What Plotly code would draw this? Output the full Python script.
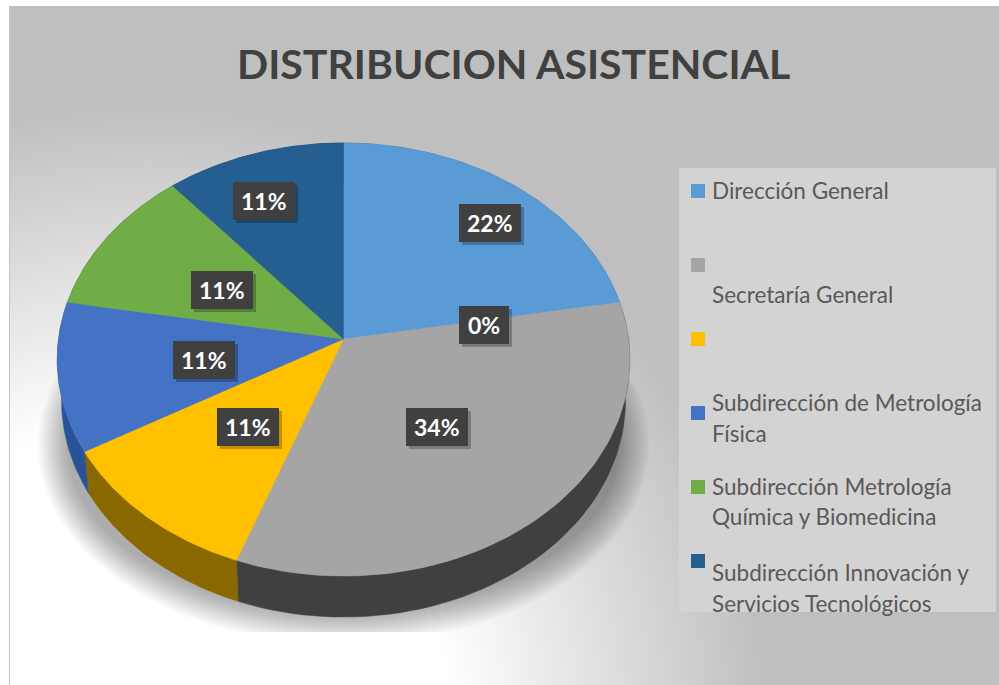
import numpy as np
import plotly.graph_objects as go

# ---- data ----
slice_names = ["Dirección General", "(sin nombre)", "Secretaría General", "(vacío)",
               "Subdirección de Metrología Física",
               "Subdirección Metrología Química y Biomedicina",
               "Subdirección Innovación y Servicios Tecnológicos"]
slice_values = [2, 0, 3, 1, 1, 1, 1]
slice_labels = ["22%", "0%", "34%", "11%", "11%", "11%", "11%"]
top_colors = ["#5b9bd5", "#a5a5a5", "#a5a5a5", "#ffc000", "#4472c4", "#70ad47", "#255e91"]
side_colors = ["#37618a", "#404040", "#404040", "#8a6800", "#2a5296", "#43682b", "#163a5a"]
title_text = "DISTRIBUCION ASISTENCIAL"
legend_colors = ["#5b9bd5", "#a5a5a5", "#ffc000", "#4472c4", "#70ad47", "#255e91"]
legend_lines = ["Dirección General", "Secretaría General", "Subdirección de Metrología", "Física",
                "Subdirección Metrología", "Química y Biomedicina",
                "Subdirección Innovación y", "Servicios Tecnológicos"]

# ---- layout geometry (pixels) ----
W, H = 999, 685
CX, HUB = 343.5, 339
A, B, K = 285.0, 214.6, 0.0947
DEPTH, SHRINK = 41, 0.985
label_pos = [(490, 223), (484, 325), (437, 427), (248, 427), (204, 360), (222, 290), (264, 201)]
legend_square_y = [191, 265, 339, 413, 487, 561]
legend_line_y = [190, 294, 402, 433, 486, 516, 572, 603]


def project(theta, drop=0.0, scale=1.0):
    u, v = np.sin(theta), -np.cos(theta)
    d = 1 - K * v
    return CX + scale * A * u / d, HUB + B * v / d + drop


shapes = []
# background
shapes.append(dict(type="rect", layer="below", x0=9, x1=W, y0=6, y1=H, fillcolor="#bfbfbf", line_width=0))
for r in range(620, 296, -4):
    t = (620 - r) / 320
    g = int(round(0xbf + t * (0xff - 0xbf)))
    shapes.append(dict(type="circle", layer="below", x0=150 - r, x1=150 + r, y0=720 - r, y1=720 + r,
                       fillcolor=f"rgb({g},{g},{g})", line_width=0))
shapes.append(dict(type="line", layer="below", x0=9.5, x1=9.5, y0=6, y1=H, line=dict(color="#c4c4c4", width=1)))

# soft shadow
phi = np.linspace(0, 2 * np.pi, 240)
for i in range(22):
    f = i / 21
    rx, ry, cy = 306 - 30 * f, 200 - 32 * f, 445
    xs = CX + rx * np.cos(phi)
    ys = np.minimum(cy + ry * np.sin(phi), 632)
    path = "M" + " L".join(f"{a:.1f},{b:.1f}" for a, b in zip(xs, ys)) + " Z"
    shapes.append(dict(type="path", layer="below", path=path, fillcolor="rgba(0,0,0,0.017)", line_width=0))

fig = go.Figure()
total = sum(slice_values)
edges = np.concatenate([[0], np.cumsum(slice_values)]) / total * 2 * np.pi

# extruded side
for i in range(len(slice_values)):
    if slice_values[i] == 0:
        continue
    th = np.linspace(edges[i], edges[i + 1], 60)
    x1, y1 = project(th)
    x2, y2 = project(th[::-1], DEPTH, SHRINK)
    fig.add_trace(go.Scatter(x=np.r_[x1, x2, x1[0]], y=np.r_[y1, y2, y1[0]], mode="lines", fill="toself",
                             fillcolor=side_colors[i], line=dict(color=side_colors[i], width=0.5),
                             hoverinfo="skip", showlegend=False))
# top face
for i in range(len(slice_values)):
    if slice_values[i] == 0:
        continue
    th = np.linspace(edges[i], edges[i + 1], 80)
    x1, y1 = project(th)
    fig.add_trace(go.Scatter(x=np.r_[CX, x1, CX], y=np.r_[HUB, y1, HUB], mode="lines", fill="toself",
                             fillcolor=top_colors[i], line=dict(color=top_colors[i], width=0.5),
                             name=slice_names[i], text=slice_labels[i], hoverinfo="name+text", showlegend=False))

annotations = []
annotations.append(dict(x=513, y=63, xref="x", yref="y", text=f"<b>{title_text}</b>", showarrow=False,
                        font=dict(family="Lato", size=41, color="#404040")))

for (lx, ly), lab in zip(label_pos, slice_labels):
    w = 50 if lab == "0%" else 62
    shapes.append(dict(type="rect", layer="above", x0=lx - w / 2 + 3, x1=lx + w / 2 + 3, y0=ly - 19 + 3, y1=ly + 19 + 3,
                       fillcolor="rgba(0,0,0,0.25)", line_width=0))
    shapes.append(dict(type="rect", layer="above", x0=lx - w / 2, x1=lx + w / 2, y0=ly - 19, y1=ly + 19,
                       fillcolor="#404040", line_width=0))
    annotations.append(dict(x=lx, y=ly, xref="x", yref="y", text=f"<b>{lab}</b>", showarrow=False,
                            font=dict(family="Lato", size=23, color="#ffffff")))

# legend
shapes.append(dict(type="rect", layer="above", x0=679, x1=996, y0=168, y1=612, fillcolor="#d3d3d3", line_width=0))
for c, y in zip(legend_colors, legend_square_y):
    shapes.append(dict(type="rect", layer="above", x0=691, x1=705, y0=y - 7, y1=y + 7, fillcolor=c, line_width=0))
for t, y in zip(legend_lines, legend_line_y):
    annotations.append(dict(x=710, y=y, xref="x", yref="y", xanchor="left", text=t, showarrow=False,
                            font=dict(family="Lato", size=22.5, color="#595959")))

fig.update_layout(
    width=W, height=H, autosize=False,
    margin=dict(l=9, r=0, t=6, b=0),
    paper_bgcolor="#ffffff", plot_bgcolor="rgba(0,0,0,0)",
    xaxis=dict(range=[9, W], visible=False, fixedrange=True),
    yaxis=dict(range=[H, 6], visible=False, fixedrange=True),
    shapes=shapes, annotations=annotations, showlegend=False,
)
fig.write_html("out.html", config=dict(displayModeBar=False),
               post_script="document.body.style.margin='0';document.documentElement.style.overflow='hidden';")
